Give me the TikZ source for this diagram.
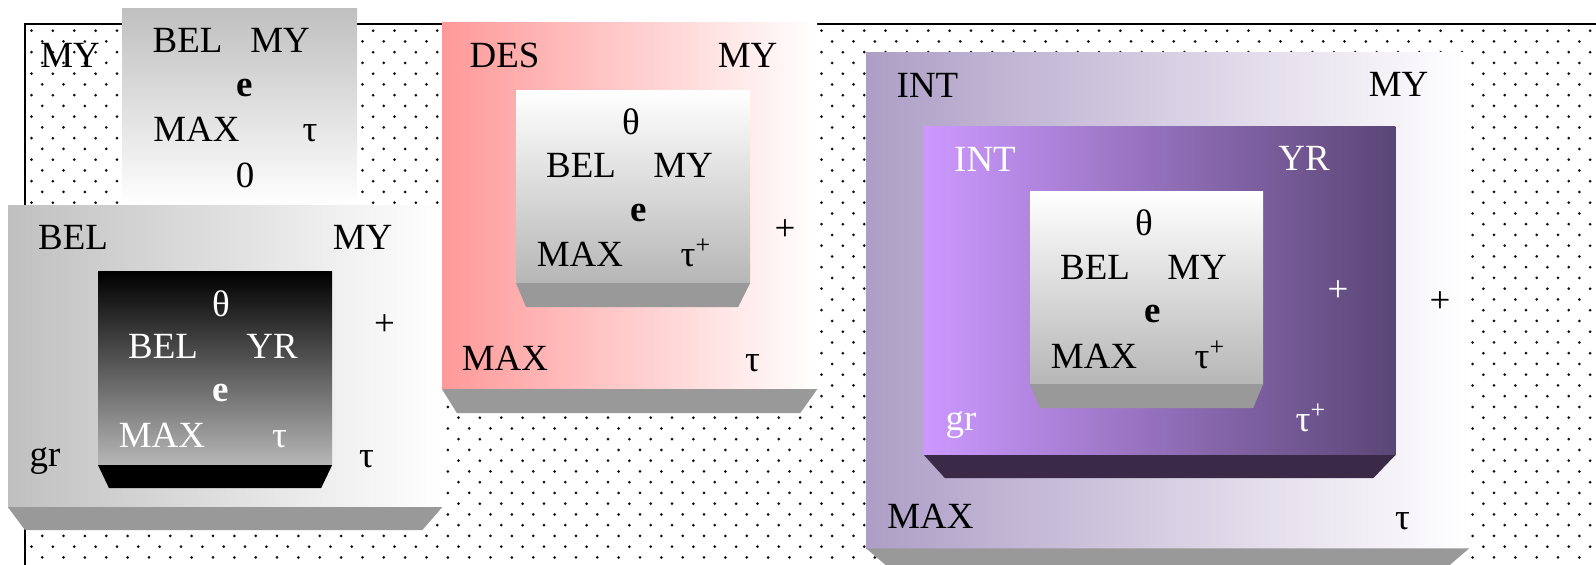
\documentclass[tikz,border=0pt]{standalone}
\usepackage{fontspec}
\setmainfont{Liberation Serif}
\usetikzlibrary{calc}
\definecolor{boxgray}{HTML}{C0C0C0}
\definecolor{bevelgray}{HTML}{999999}
\definecolor{dotcol}{HTML}{111111}
\definecolor{despink}{HTML}{FF9999}
\definecolor{intlav}{HTML}{AE9EC6}
\definecolor{intlight}{HTML}{CC99FF}
\definecolor{intdark}{HTML}{5A4676}
\definecolor{intshadow}{HTML}{3A2A48}
\tikzstyle{panel} = [rectangle, anchor=north west, inner sep=0pt, outer sep=0pt]
\tikzstyle{lbl} = [anchor=base, inner sep=0pt, font=\fontsize{10.5}{12.6}\selectfont]
\tikzstyle{wlbl} = [lbl, text=white]

\begin{document}
\begin{tikzpicture}[x=0.01cm, y=0.01cm]
	\useasboundingbox (0,0) rectangle (1596,-565);
	\begin{scope}
		\clip (25,-24) rectangle (1596,-565);
		\foreach \j in {0,...,50} {
			\pgfmathsetmacro{\xs}{mod(\j,2) == 0 ? 10.2 : -0.5}
			\foreach \k in {0,...,75}
				\fill[dotcol] ({\xs+21.35*\k}, {-30.7-10.75*\j}) circle (1.5);
		}
	\end{scope}
	\draw[line width=0.6pt] (1600,-24) -- (25,-24) -- (25,-570);
	\node[lbl] (mytop) at (70,-68) {MY};
	
	\node[panel, minimum width=2.35cm, minimum height=1.97cm, top color=boxgray, bottom color=white] (topbox) at (122,-9) {};
	\node[lbl] (topbel) at (187.5,-53) {BEL};
	\node[lbl] (topmy) at (280,-53) {MY};
	\node[lbl] (tope) at (245,-97) {\textbf{e}};
	\node[lbl] (topmax) at (196.5,-142) {MAX};
	\node[lbl] (toptau) at (310,-142) {τ};
	\node[lbl] (topzero) at (245,-188) {0};
	
	\node[panel, minimum width=4.34cm, minimum height=3.01cm, left color=boxgray, right color=white] (belbox) at (8,-206) {};
	\fill[bevelgray] (belbox.south west) -- (belbox.south east) -- ($(belbox.south east)+(-20,-23)$) -- ($(belbox.south west)+(17,-23)$) -- cycle;
	\node[lbl] (belbel) at (73,-250) {BEL};
	\node[lbl] (belmy) at (362.5,-250) {MY};
	\node[lbl] (belplus) at (384.5,-336) {+};
	\node[lbl] (belgr) at (45,-467) {gr};
	\node[lbl] (beltau) at (366.5,-468) {τ};
	\node[panel, minimum width=2.34cm, minimum height=1.93cm, top color=black, bottom color=boxgray!95!black] (blackbox) at (98,-272) {};
	\fill[black] (blackbox.south west) -- (blackbox.south east) -- ($(blackbox.south east)+(-11,-23)$) -- ($(blackbox.south west)+(11,-23)$) -- cycle;
	\node[wlbl] (blacktheta) at (221,-317) {θ};
	\node[wlbl] (blackbel) at (163,-359) {BEL};
	\node[wlbl] (blackyr) at (272,-359) {YR};
	\node[wlbl] (blacke) at (220.5,-402) {\textbf{e}};
	\node[wlbl] (blackmax) at (162,-448) {MAX};
	\node[wlbl] (blacktau) at (279.5,-448) {τ};
	
	\node[panel, minimum width=3.75cm, minimum height=3.66cm, left color=despink, right color=white] (desbox) at (442,-23) {};
	\fill[bevelgray] (desbox.south west) -- (desbox.south east) -- ($(desbox.south east)+(-17,-24)$) -- ($(desbox.south west)+(15,-24)$) -- cycle;
	\node[lbl] (desdes) at (504.5,-68) {DES};
	\node[lbl] (desmy) at (747.5,-68) {MY};
	\node[lbl] (desplus) at (785,-241) {+};
	\node[lbl] (desmax) at (505,-371) {MAX};
	\node[lbl] (destau) at (752.5,-372) {τ};
	\node[panel, minimum width=2.34cm, minimum height=1.92cm, top color=white, bottom color=boxgray!95!black] (desinner) at (516,-91) {};
	\fill[bevelgray] (desinner.south west) -- (desinner.south east) -- ($(desinner.south east)+(-12,-24)$) -- ($(desinner.south west)+(10,-24)$) -- cycle;
	\node[lbl] (destheta) at (631,-135) {θ};
	\node[lbl] (desbel) at (581,-178) {BEL};
	\node[lbl] (desmy2) at (683,-178) {MY};
	\node[lbl] (dese) at (638.5,-222) {\textbf{e}};
	\node[lbl] (desmax2) at (580,-267) {MAX};
	\node[lbl, anchor=base west] (destauplus) at (680,-267) {τ\textsuperscript{+}};
	
	\node[panel, minimum width=6.03cm, minimum height=4.95cm, left color=intlav, right color=white] (intbox) at (866,-53) {};
	\fill[bevelgray] (intbox.south west) -- (intbox.south east) -- ($(intbox.south east)+(-34,-29)$) -- ($(intbox.south west)+(34,-29)$) -- cycle;
	\node[lbl] (intint) at (927.5,-98) {INT};
	\node[lbl] (intmy) at (1398.5,-97) {MY};
	\node[lbl] (intplus) at (1440,-313) {+};
	\node[lbl] (intmax) at (930.5,-529) {MAX};
	\node[lbl] (inttau) at (1402.5,-530) {τ};
	\node[panel, minimum width=4.71cm, minimum height=3.28cm, left color=intlight, right color=intdark] (purplebox) at (924,-127) {};
	\fill[intshadow] (purplebox.south west) -- (purplebox.south east) -- ($(purplebox.south east)+(-22,-23)$) -- ($(purplebox.south west)+(21,-23)$) -- cycle;
	\node[wlbl] (purpleint) at (985,-172) {INT};
	\node[wlbl] (purpleyr) at (1304,-171) {YR};
	\node[wlbl] (purpleplus) at (1338,-302) {+};
	\node[wlbl] (purplegr) at (961,-431) {gr};
	\node[wlbl, anchor=base west] (purpletau) at (1295,-432) {τ\textsuperscript{+}};
	\node[panel, minimum width=2.33cm, minimum height=1.92cm, top color=white, bottom color=boxgray!95!black] (intinner) at (1030,-192) {};
	\fill[bevelgray] (intinner.south west) -- (intinner.south east) -- ($(intinner.south east)+(-10,-24)$) -- ($(intinner.south west)+(10,-24)$) -- cycle;
	\node[lbl] (inttheta) at (1144,-236) {θ};
	\node[lbl] (intbel) at (1095,-280) {BEL};
	\node[lbl] (intmy2) at (1197,-280) {MY};
	\node[lbl] (inte) at (1152.5,-323) {\textbf{e}};
	\node[lbl] (intmax2) at (1094,-369) {MAX};
	\node[lbl, anchor=base west] (inttauplus) at (1194,-369) {τ\textsuperscript{+}};
\end{tikzpicture}
\end{document}
